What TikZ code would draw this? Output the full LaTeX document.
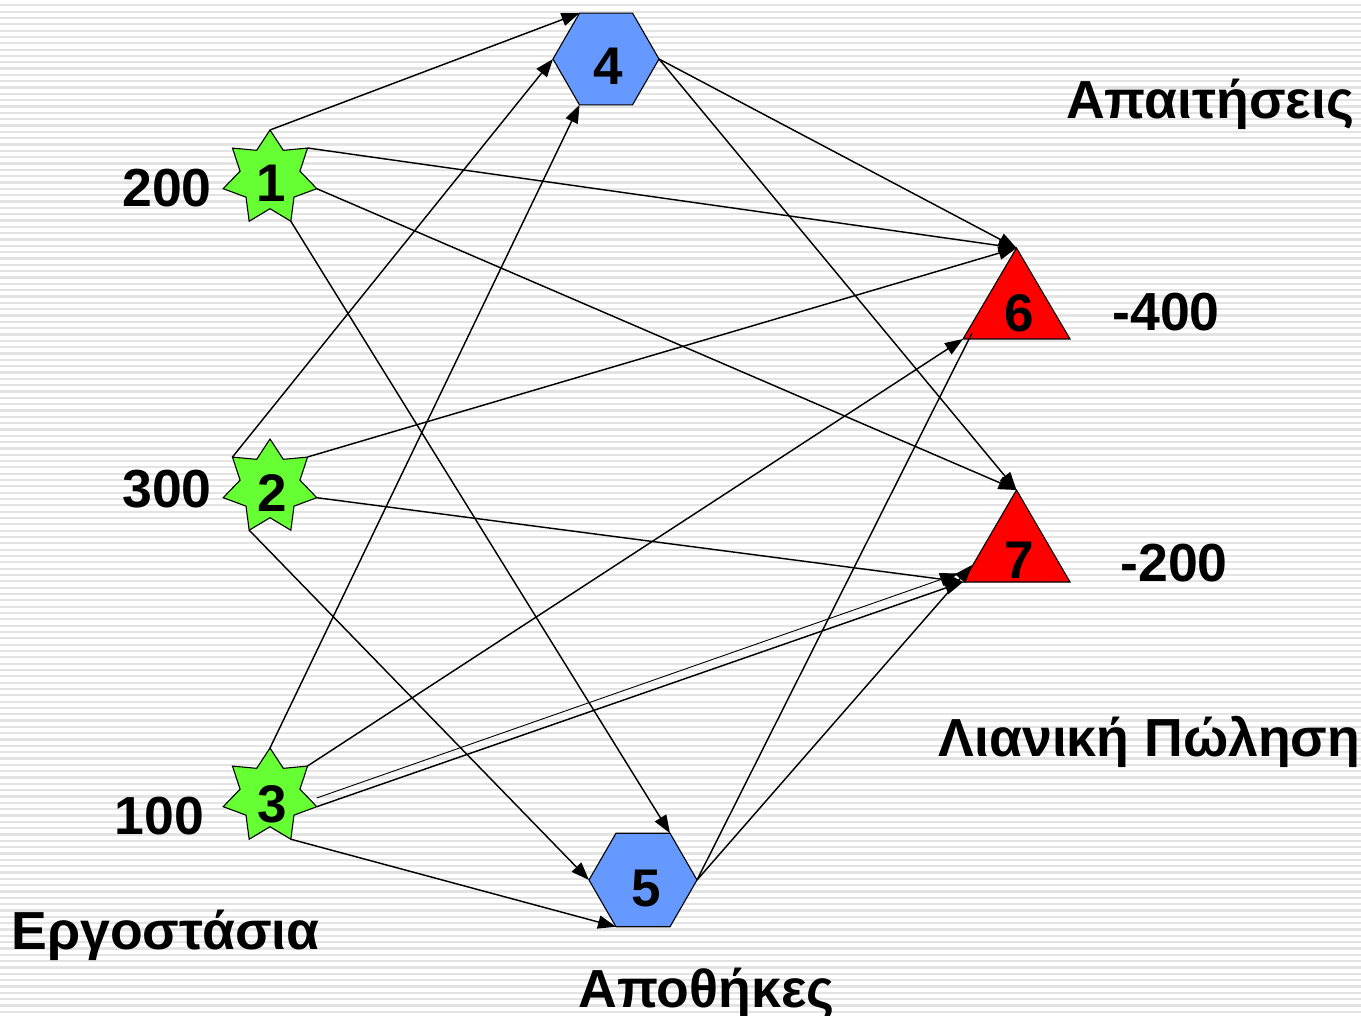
\documentclass[tikz,border=0pt]{standalone}
\usepackage{fontspec}
\setmainfont{Liberation Sans}
\usetikzlibrary{arrows.meta}

\definecolor{stargreen}{HTML}{66FF33}
\definecolor{hexblue}{HTML}{6699FF}
\definecolor{trired}{HTML}{FF0000}
\definecolor{stripegray}{HTML}{E3E3E3}

\tikzset{
  starshape/.style={draw=black, line width=0.55pt, fill=stargreen, line join=miter},
  hexshape/.style={draw=black, line width=0.55pt, fill=hexblue},
  trishape/.style={draw=black, line width=0.55pt, fill=trired},
  link/.style={draw=black, line width=0.72pt, -{Triangle[length=9pt,width=6.6pt]}},
  thinlink/.style={draw=black, line width=0.45pt, -{Triangle[length=9pt,width=6.6pt]}},
  plainlink/.style={draw=black, line width=0.72pt},
  numtext/.style={inner sep=0pt, anchor=base, font=\fontsize{26.5pt}{30pt}\selectfont\bfseries},
  captext/.style={inner sep=0pt, anchor=base, font=\fontsize{26.8pt}{30pt}\selectfont\bfseries},
}

% seven-pointed star centred at (#2,#3), with named tips
\newcommand\drawsevenstar[3]{%
  \draw[starshape, shift={(#2,#3)}] (270:48)
    \foreach \k in {1,...,13}{ -- ({270+\k*360/14}:{48-17.3*mod(\k,2)}) } -- cycle;
  \coordinate (#1-t)  at (#2,{#3-48});
  \coordinate (#1-ur) at ({#2+37.5},{#3-30});
  \coordinate (#1-r)  at ({#2+46.8},{#3+10.7});
  \coordinate (#1-br) at ({#2+20.8},{#3+43.2});
  \coordinate (#1-bl) at ({#2-20.8},{#3+43.2});
  \coordinate (#1-l)  at ({#2-46.8},{#3+10.7});
  \coordinate (#1-ul) at ({#2-37.5},{#3-30});
}

% regular hexagon (flat top) centred at (#2,#3) with radius #4
\newcommand\drawhexa[4]{%
  \draw[hexshape, shift={(#2,#3)}] (0:#4)
    \foreach \a in {60,120,...,300}{ -- (\a:#4)} -- cycle;
  \coordinate (#1-r)  at ({#2+#4},#3);
  \coordinate (#1-l)  at ({#2-#4},#3);
  \coordinate (#1-tl) at ({#2-#4/2},{#3-0.866*#4});
  \coordinate (#1-tr) at ({#2+#4/2},{#3-0.866*#4});
  \coordinate (#1-bl) at ({#2-#4/2},{#3+0.866*#4});
  \coordinate (#1-br) at ({#2+#4/2},{#3+0.866*#4});
}

\begin{document}
\begin{tikzpicture}[x=0.5pt, y=-0.5pt]
  \useasboundingbox (0,0) rectangle (1361,1016);

  % striped background
  \fill[white] (0,0) rectangle (1361,1016);
  \foreach \i in {0,...,160}
    \draw[stripegray, line width=1.1pt] (0,{5.3+6.33*\i}) -- (1361,{5.3+6.33*\i});

  % factories
  \drawsevenstar{s1}{270}{178}
  \drawsevenstar{s2}{270}{487}
  \drawsevenstar{s3}{270}{796}

  % warehouses
  \drawhexa{h4}{606}{59}{53}
  \drawhexa{h5}{643}{880}{54}

  % retail points
  \draw[trishape] (1016.5,248) coordinate (t6-a) -- (963,339) coordinate (t6-bl)
                  -- (1070,339) coordinate (t6-br) -- cycle;
  \draw[trishape] (1016.5,490) coordinate (t7-a) -- (963,582) coordinate (t7-bl)
                  -- (1070,582) coordinate (t7-br) -- cycle;

  \coordinate (t6-in) at (972,333);
  \coordinate (t7-in) at (972,565);
  \coordinate (s3-r2) at (316.7,798);
  \coordinate (t7-bl2) at (958,573.5);

  % flows out of factory 1
  \draw[link] (s1-t)  -- (h4-tl);
  \draw[link] (s1-ur) -- (t6-a);
  \draw[link] (s1-r)  -- (t7-a);
  \draw[link] (s1-br) -- (h5-tr);

  % flows out of factory 2
  \draw[link] (s2-ul) -- (h4-l);
  \draw[link] (s2-ur) -- (t6-a);
  \draw[link] (s2-r)  -- (t7-bl);
  \draw[link] (s2-bl) -- (h5-l);

  % flows out of factory 3
  \draw[link] (s3-t)  -- (h4-bl);
  \draw[link] (s3-ur) -- (t6-bl);
  \draw[link] (s3-r)  -- (t7-bl);
  \draw[thinlink] (s3-r2) -- (t7-bl2);
  \draw[link] (s3-br) -- (h5-bl);

  % flows out of the warehouses
  \draw[link] (h4-r) -- (t6-a);
  \draw[link] (h4-r) -- (t7-a);
  \draw[plainlink] (h5-r) -- (t6-in);
  \draw[link] (h5-r) -- (t7-in);

  % node numbers
  \node[numtext] (n1) at (271,202) {1};
  \node[numtext] (n2) at (272,511) {2};
  \node[numtext] (n3) at (272,822) {3};
  \node[numtext] (n4) at (608,85)  {4};
  \node[numtext] (n5) at (646,906) {5};
  \node[numtext] (n6) at (1019,332) {6};
  \node[numtext] (n7) at (1019,578) {7};

  % supplies and demands
  \node[captext] (sup1) at (167,207) {200};
  \node[captext] (sup2) at (167,507) {300};
  \node[captext] (sup3) at (159.5,834) {100};
  \node[captext] (dem6) at (1166,331) {-400};
  \node[captext] (dem7) at (1174,581) {-200};

  % group captions
  \node[captext] (capdem) at (1210,119) {Απαιτήσεις};
  \node[captext] (capret) at (1149.5,756) {Λιανική Πώληση};
  \node[captext] (capfac) at (165.5,949) {Εργοστάσια};
  \node[captext] (capwar) at (706.5,1007) {Αποθήκες};
\end{tikzpicture}
\end{document}
